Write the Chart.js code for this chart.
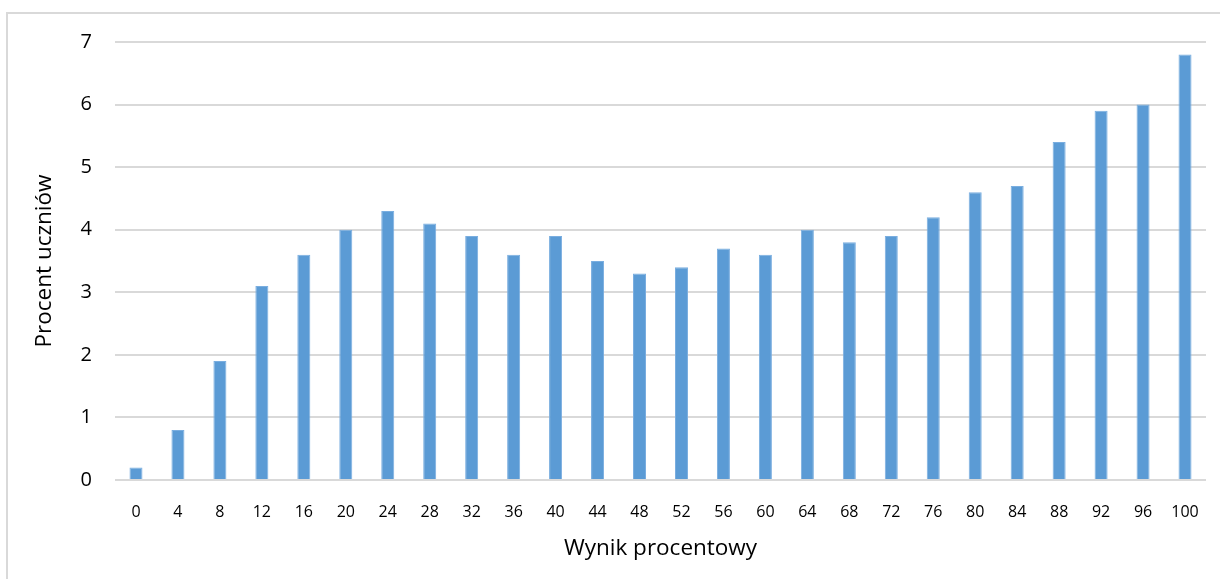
<!DOCTYPE html>
<html>
<head>
<meta charset="utf-8">
<script src="https://cdn.jsdelivr.net/npm/chart.js@4/dist/chart.umd.min.js"></script>
<style>
    html, body { margin: 0; padding: 0; background: #fff; }
    #wrap { width: 1220px; height: 579px; position: relative; }
</style>
</head>
<body>
<div id="wrap"><canvas id="chart" width="1220" height="579"></canvas></div>
<script>
const scores = ['0', '4', '8', '12', '16', '20', '24', '28', '32', '36', '40', '44', '48',
    '52', '56', '60', '64', '68', '72', '76', '80', '84', '88', '92', '96', '100'];
const percentStudents = [0.2, 0.8, 1.9, 3.1, 3.6, 4.0, 4.3, 4.1, 3.9, 3.6, 3.9, 3.5, 3.3,
    3.4, 3.7, 3.6, 4.0, 3.8, 3.9, 4.2, 4.6, 4.7, 5.4, 5.9, 6.0, 6.8];
const yTicks = [0, 1, 2, 3, 4, 5, 6, 7];

const fontFamily = '"Open Sans", Lato, sans-serif';
const gridColor = '#d9d9d9';

// light frame round the whole chart, cropped at the right and bottom
const frame = {
    id: 'frame',
    beforeDraw(chart) {
        const ctx = chart.ctx;
        ctx.save();
        ctx.strokeStyle = gridColor;
        ctx.lineWidth = 2;
        ctx.strokeRect(7, 13, 1230, 600);
        ctx.restore();
    }
};

new Chart(document.getElementById('chart'), {
    type: 'bar',
    data: {
        labels: scores,
        datasets: [{
            label: 'Procent uczniów',
            data: percentStudents,
            backgroundColor: '#5b9bd5',
            borderColor: '#7aaee0',
            borderWidth: { left: 1, right: 1, top: 1, bottom: 0 },
            barPercentage: 0.62,
            categoryPercentage: 0.5
        }]
    },
    options: {
        responsive: false,
        animation: false,
        layout: { padding: { top: 42, right: 14, left: 0, bottom: 0 } },
        plugins: {
            legend: { display: false },
            tooltip: { enabled: false }
        },
        scales: {
            x: {
                grid: { display: false },
                border: { display: false },
                ticks: {
                    color: '#000',
                    font: { family: fontFamily, size: 16 },
                    padding: 15,
                    maxRotation: 0,
                    autoSkip: false
                },
                title: {
                    display: true,
                    text: 'Wynik procentowy',
                    color: '#000',
                    font: { family: fontFamily, size: 22.5 },
                    padding: { top: 0, bottom: 17 }
                },
                afterFit: s => { s.height = 99; }
            },
            y: {
                min: 0,
                max: 7,
                afterBuildTicks: s => { s.ticks = yTicks.map(v => ({ value: v })); },
                grid: { color: gridColor, lineWidth: 2, drawTicks: false },
                border: { display: false },
                ticks: {
                    color: '#000',
                    font: { family: fontFamily, size: 20 },
                    padding: 23
                },
                title: {
                    display: true,
                    text: 'Procent uczniów',
                    color: '#000',
                    font: { family: fontFamily, size: 22.5 },
                    padding: { top: 31, bottom: 0 }
                },
                afterFit: s => { s.width = 115; }
            }
        }
    },
    plugins: [frame]
});
</script>
</body>
</html>
